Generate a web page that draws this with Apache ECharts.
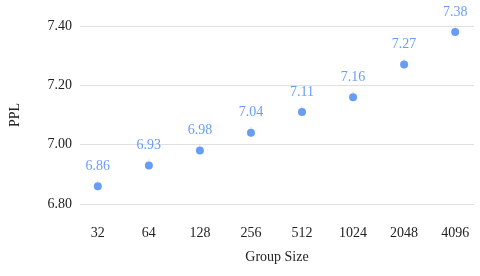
<!DOCTYPE html>
<html>
<head>
<meta charset="utf-8">
<script src="https://cdn.jsdelivr.net/npm/echarts@6/dist/echarts.min.js"></script>
<style>html,body{margin:0;padding:0;background:#fff}#chart{width:480px;height:276px}</style>
</head>
<body>
<div id="chart"></div>
<script>
// group size vs perplexity
const groupSizes = ['32', '64', '128', '256', '512', '1024', '2048', '4096'];
const ppl = [6.86, 6.93, 6.98, 7.04, 7.11, 7.16, 7.27, 7.38];

const chart = echarts.init(document.getElementById('chart'));
const serif = '"Liberation Serif", "DejaVu Serif", serif';
const option = {
    animation: false,
    grid: { left: 76, right: 6, top: 26, bottom: 72 },
    xAxis: {
        type: 'value',
        min: -0.349,
        max: 7.369,
        name: 'Group Size',
        nameLocation: 'middle',
        nameGap: 46,
        nameTextStyle: { fontFamily: serif, fontSize: 14, color: '#222' },
        axisLine: { show: false },
        axisTick: { show: false },
        splitLine: { show: false },
        axisLabel: {
            customValues: groupSizes.map((_, i) => i),
            formatter: v => groupSizes[Math.round(v)],
            fontFamily: serif, fontSize: 14, color: '#222', margin: 22
        }
    },
    yAxis: {
        type: 'value',
        min: 6.8,
        max: 7.4,
        interval: 0.2,
        name: 'PPL',
        nameLocation: 'middle',
        nameGap: 58,
        nameTextStyle: { fontFamily: serif, fontSize: 14, color: '#222' },
        axisLine: { show: false },
        axisTick: { show: false },
        splitLine: { lineStyle: { color: '#e0e0e0', width: 1 } },
        axisLabel: {
            formatter: v => v.toFixed(2),
            fontFamily: serif, fontSize: 14, color: '#222', margin: 8
        }
    },
    series: [{
        type: 'scatter',
        data: ppl.map((v, i) => [i, v]),
        symbolSize: 8,
        itemStyle: { color: '#4285f4' },
        label: {
            show: true,
            position: 'top',
            distance: 9,
            formatter: p => p.value[1].toFixed(2),
            fontFamily: serif, fontSize: 14, color: '#4285f4'
        },
        labelLine: { show: true, lineStyle: { color: '#dddddd', width: 1 } }
    }]
};
chart.setOption(option);
</script>
</body>
</html>
